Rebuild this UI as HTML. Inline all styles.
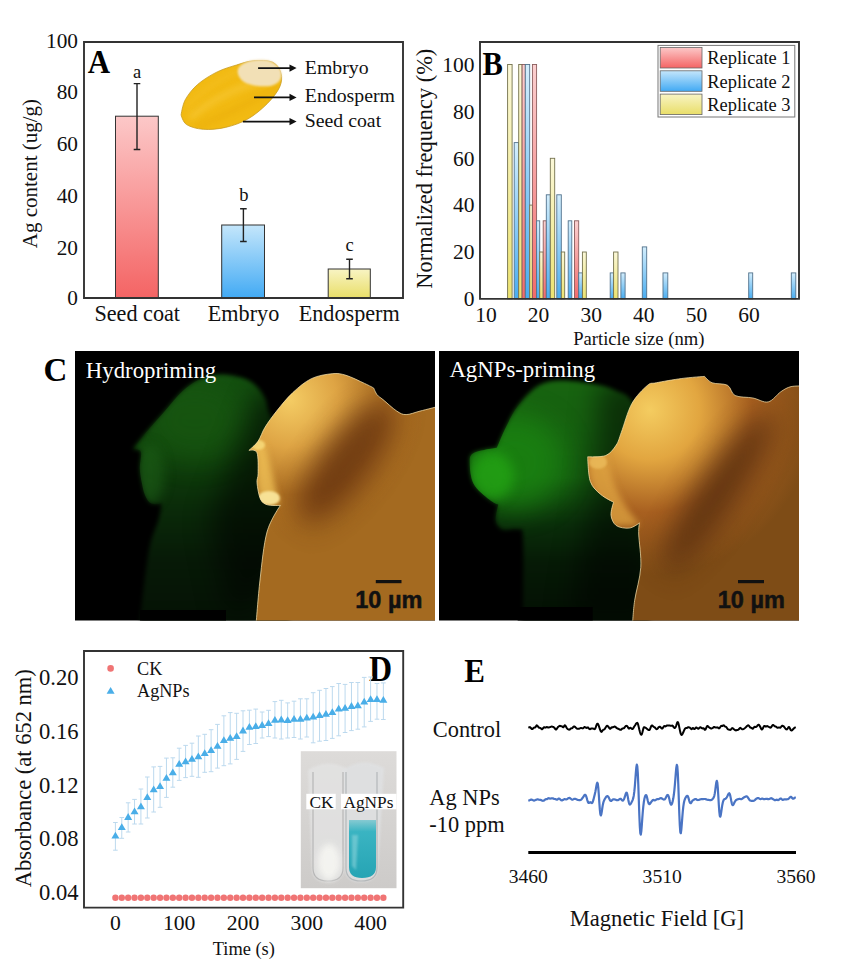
<!DOCTYPE html>
<html><head><meta charset="utf-8"><style>
html,body{margin:0;padding:0;background:#fff;}
body{width:865px;height:969px;overflow:hidden;position:relative;}
svg{position:absolute;left:0;top:0;}
</style></head><body>
<svg width="865" height="969" viewBox="0 0 865 969">
<defs>
<linearGradient id="gr" x1="0" y1="0" x2="0" y2="1"><stop offset="0" stop-color="#fcc8c8"/><stop offset="1" stop-color="#f46464"/></linearGradient>
<linearGradient id="gb" x1="0" y1="0" x2="0" y2="1"><stop offset="0" stop-color="#c4e6fb"/><stop offset="1" stop-color="#42aaf4"/></linearGradient>
<linearGradient id="gy" x1="0" y1="0" x2="0" y2="1"><stop offset="0" stop-color="#f8f4c4"/><stop offset="1" stop-color="#e9de68"/></linearGradient>
<linearGradient id="grb" x1="0" y1="0" x2="0" y2="1"><stop offset="0" stop-color="#fbd0d0"/><stop offset="1" stop-color="#f26a6a"/></linearGradient>
<linearGradient id="gbb" x1="0" y1="0" x2="0" y2="1"><stop offset="0" stop-color="#d4eefc"/><stop offset="1" stop-color="#48acf0"/></linearGradient>
<linearGradient id="gyb" x1="0" y1="0" x2="0" y2="1"><stop offset="0" stop-color="#fbf8d8"/><stop offset="1" stop-color="#ece270"/></linearGradient>
<filter id="blur1" x="-50%" y="-50%" width="200%" height="200%"><feGaussianBlur color-interpolation-filters="sRGB" stdDeviation="1.2"/></filter>
<filter id="blur3" x="-50%" y="-50%" width="200%" height="200%"><feGaussianBlur color-interpolation-filters="sRGB" stdDeviation="3"/></filter>
<filter id="blur6" x="-50%" y="-50%" width="200%" height="200%"><feGaussianBlur color-interpolation-filters="sRGB" stdDeviation="6"/></filter>
<filter id="blur12" x="-50%" y="-50%" width="200%" height="200%"><feGaussianBlur color-interpolation-filters="sRGB" stdDeviation="12"/></filter>
<filter id="blur20" x="-50%" y="-50%" width="200%" height="200%"><feGaussianBlur color-interpolation-filters="sRGB" stdDeviation="20"/></filter>
<radialGradient id="seedg" cx="0.5" cy="0.5" r="0.5"><stop offset="0" stop-color="#f6c22a"/><stop offset="0.8" stop-color="#f0b818"/><stop offset="1" stop-color="#e0a010"/></radialGradient>
<clipPath id="seedclip"><path d="M181.1 114.9 C181.1 114.9 182.5 104.8 185.3 99.7 C188.1 94.6 192.4 89.0 197.7 84.4 C203.0 79.8 210.7 75.1 217.2 71.9 C223.7 68.7 230.6 66.8 236.6 65.0 C242.6 63.1 247.2 61.3 253.2 60.8 C259.2 60.3 268.1 60.1 272.7 62.2 C277.3 64.3 279.9 69.1 281.0 73.3 C282.1 77.5 281.9 82.1 279.6 87.2 C277.3 92.3 272.4 98.5 267.1 103.8 C261.8 109.1 254.6 115.2 247.7 119.1 C240.8 123.0 232.9 125.7 225.5 127.4 C218.1 129.1 209.8 129.8 203.3 129.3 C196.8 128.8 190.3 127.0 186.6 124.6 C182.9 122.2 181.1 114.9 181.1 114.9 Z"/></clipPath><filter id="blur16" x="-100%" y="-100%" width="300%" height="300%"><feGaussianBlur color-interpolation-filters="sRGB" stdDeviation="14"/></filter><filter id="blur2" x="-20%" y="-20%" width="140%" height="140%"><feGaussianBlur color-interpolation-filters="sRGB" stdDeviation="2"/></filter><clipPath id="cl"><rect x="75" y="351" width="360" height="269.5"/></clipPath><clipPath id="cr"><rect x="439" y="351" width="360" height="269.5"/></clipPath><linearGradient id="ggl" gradientUnits="userSpaceOnUse" x1="0" y1="375" x2="0" y2="621"><stop offset="0" stop-color="#145010"/><stop offset="0.3" stop-color="#10440c"/><stop offset="0.55" stop-color="#0a2a09"/><stop offset="0.75" stop-color="#071a07"/><stop offset="1" stop-color="#051205"/></linearGradient><linearGradient id="ggr" gradientUnits="userSpaceOnUse" x1="0" y1="380" x2="0" y2="621"><stop offset="0" stop-color="#186410"/><stop offset="0.4" stop-color="#155c10"/><stop offset="0.6" stop-color="#0a2e0a"/><stop offset="0.76" stop-color="#061a06"/><stop offset="1" stop-color="#041004"/></linearGradient><radialGradient id="gol" gradientUnits="userSpaceOnUse" cx="290" cy="400" r="135"><stop offset="0" stop-color="#f4cc64"/><stop offset="0.35" stop-color="#dea444"/><stop offset="0.7" stop-color="#ac6e22"/><stop offset="1" stop-color="#a46a20"/></radialGradient><radialGradient id="gor" gradientUnits="userSpaceOnUse" cx="650" cy="410" r="165"><stop offset="0" stop-color="#f4cc60"/><stop offset="0.3" stop-color="#e2a640"/><stop offset="0.62" stop-color="#a86020"/><stop offset="1" stop-color="#7e4c16"/></radialGradient><radialGradient id="gdark" cx="0.5" cy="0.5" r="0.5"><stop offset="0" stop-color="#1c5219"/><stop offset="1" stop-color="#1c5219" stop-opacity="0"/></radialGradient><clipPath id="olc"><path d="M248.9 450.4 C248.9 450.4 255.4 445.0 258.1 441.2 C260.8 437.4 261.9 432.3 265.0 427.3 C268.1 422.3 272.0 416.9 276.6 411.1 C281.2 405.3 287.0 398.0 292.8 392.6 C298.6 387.2 304.8 381.9 311.3 378.7 C317.9 375.5 326.3 374.3 332.1 373.7 C337.9 373.1 340.6 373.7 346.0 375.3 C351.4 376.9 359.9 381.3 364.5 383.4 C369.1 385.5 373.7 388.0 373.7 388.0 C373.7 388.0 375.6 393.0 377.2 394.9 C378.8 396.8 379.7 396.9 383.0 399.6 C386.3 402.3 392.9 408.6 396.8 411.1 C400.7 413.6 402.2 414.6 406.1 414.6 C410.0 414.6 414.4 412.5 420.0 411.1 C425.6 409.7 440.0 406.0 440.0 406.0 C440.0 406.0 440.0 625.0 440.0 625.0 C440.0 625.0 256.0 625.0 256.0 625.0 C256.0 625.0 258.2 595.5 260.0 580.0 C261.8 564.5 263.6 544.4 267.0 532.0 C270.4 519.6 280.4 505.4 280.4 505.4 C280.4 505.4 270.7 505.9 267.4 504.8 C264.1 503.7 262.1 502.7 260.4 499.0 C258.7 495.3 257.4 487.1 257.0 482.8 C256.6 478.6 258.1 478.5 258.1 473.5 C258.1 468.5 258.5 456.6 257.0 452.7 C255.5 448.8 248.9 450.4 248.9 450.4 Z"/></clipPath><clipPath id="glc"><path d="M219.9 374.6 C212.3 374.8 205.2 377.0 199.0 379.8 C192.8 382.6 187.9 386.2 182.4 391.2 C176.9 396.2 171.0 404.1 165.8 410.0 C160.6 415.9 155.4 421.8 151.2 426.6 C147.0 431.4 143.9 435.2 140.8 439.0 C137.7 442.8 132.5 449.5 132.5 449.5 C132.5 449.5 139.6 448.4 140.8 451.5 C142.0 454.6 139.6 463.0 139.8 468.2 C140.0 473.4 140.9 478.3 141.8 482.8 C142.7 487.3 143.4 491.7 145.0 495.2 C146.6 498.7 148.4 502.2 151.2 503.6 C154.0 505.0 161.6 503.6 161.6 503.6 C161.6 503.6 160.4 513.1 158.5 520.0 C156.6 526.9 152.4 534.2 150.0 545.0 C147.6 555.8 145.5 574.0 144.0 585.0 C142.5 596.0 141.7 604.3 141.0 611.0 C140.3 617.7 140.0 625.0 140.0 625.0 C140.0 625.0 290.0 625.0 290.0 625.0 C290.0 625.0 285.0 440.0 285.0 440.0 C285.0 440.0 273.0 420.8 269.8 414.0 C266.6 407.2 267.8 404.0 265.7 399.5 C263.6 395.0 260.8 390.5 257.3 387.0 C253.8 383.5 251.0 380.8 244.8 378.7 C238.6 376.6 227.5 374.4 219.9 374.6 Z"/></clipPath><clipPath id="grc"><path d="M561.8 380.4 C552.3 380.6 545.9 381.2 538.5 385.5 C531.1 389.8 523.3 398.9 517.7 406.3 C512.1 413.7 508.2 422.7 504.8 429.6 C501.4 436.5 497.0 447.7 497.0 447.7 C497.0 447.7 478.2 450.3 473.7 452.9 C469.2 455.5 469.8 458.1 469.8 463.3 C469.8 468.5 470.5 477.9 473.7 484.0 C476.9 490.1 485.1 496.1 489.2 499.6 C493.3 503.1 498.3 504.8 498.3 504.8 C498.3 504.8 495.1 516.2 495.7 520.3 C496.3 524.4 498.5 527.9 502.2 529.4 C505.9 530.9 514.2 528.3 517.7 529.4 C521.2 530.5 522.0 523.5 522.9 535.8 C523.8 548.1 523.2 588.3 522.9 603.2 C522.6 618.1 521.0 625.0 521.0 625.0 C521.0 625.0 650.0 625.0 650.0 625.0 C650.0 625.0 650.0 440.0 650.0 440.0 C650.0 440.0 637.4 409.3 631.8 401.1 C626.2 392.9 622.2 393.5 616.2 390.7 C610.2 387.9 604.6 386.0 595.5 384.3 C586.4 382.6 571.3 380.2 561.8 380.4 Z"/></clipPath><clipPath id="orc"><path d="M587.7 456.8 C587.7 456.8 601.0 457.4 605.8 455.5 C610.5 453.6 613.6 449.0 616.2 445.1 C618.8 441.2 618.8 439.1 621.4 432.2 C624.0 425.3 627.5 411.5 631.8 403.7 C636.1 395.9 643.2 389.0 647.3 385.5 C651.4 382.0 650.6 384.0 656.3 382.8 C662.0 381.6 673.7 379.6 681.7 378.5 C689.8 377.4 704.6 376.4 704.6 376.4 C704.6 376.4 708.4 381.3 712.2 382.8 C716.0 384.3 723.7 383.2 727.5 385.3 C731.3 387.4 730.9 393.4 735.1 395.5 C739.3 397.6 747.4 396.9 752.9 398.0 C758.4 399.1 763.5 402.9 768.2 401.9 C772.9 400.8 777.1 394.2 780.9 391.7 C784.7 389.1 787.1 387.6 791.1 386.6 C795.1 385.7 805.0 386.0 805.0 386.0 C805.0 386.0 805.0 625.0 805.0 625.0 C805.0 625.0 632.5 625.0 632.5 625.0 C632.5 625.0 633.2 610.3 634.6 600.7 C636.0 591.1 640.1 578.5 640.8 567.4 C641.5 556.3 638.9 541.4 638.7 534.0 C638.5 526.6 639.5 522.9 639.5 522.9 C639.5 522.9 633.1 527.7 629.2 528.1 C625.3 528.5 619.2 527.7 616.2 525.5 C613.2 523.3 611.4 519.0 611.0 515.1 C610.6 511.2 613.6 502.2 613.6 502.2 C613.6 502.2 604.6 497.9 600.7 494.4 C596.8 490.9 592.5 487.7 590.3 481.4 C588.1 475.1 587.7 456.8 587.7 456.8 Z"/></clipPath>
<linearGradient id="insetg" x1="0" y1="0" x2="0" y2="1"><stop offset="0" stop-color="#dddbd9"/><stop offset="1" stop-color="#cdcbc9"/></linearGradient><linearGradient id="liqg" x1="0" y1="0" x2="0" y2="1"><stop offset="0" stop-color="#86cad2"/><stop offset="0.2" stop-color="#3ab4c2"/><stop offset="1" stop-color="#26a4b4"/></linearGradient>
</defs>
<rect x="115.5" y="116.2" width="42.8" height="181.8" fill="url(#gr)" stroke="#333" stroke-width="1"/>
<rect x="221.7" y="225" width="42.8" height="73" fill="url(#gb)" stroke="#333" stroke-width="1"/>
<rect x="328.2" y="269" width="42.1" height="29" fill="url(#gy)" stroke="#333" stroke-width="1"/>
<path d="M137 83.6V149.5M133.7 83.6H140.3M133.7 149.5H140.3" stroke="#222" stroke-width="1.4" fill="none"/>
<path d="M243.4 208.8V241.5M240.1 208.8H246.70000000000002M240.1 241.5H246.70000000000002" stroke="#222" stroke-width="1.4" fill="none"/>
<path d="M349.5 259.3V278.7M346.2 259.3H352.8M346.2 278.7H352.8" stroke="#222" stroke-width="1.4" fill="none"/>
<path d="M84 42H403V298H84Z" fill="none" stroke="#333" stroke-width="1.9"/>
<text x="78" y="305.4" font-family="Liberation Serif" font-size="21.3" font-weight="normal" fill="#111" text-anchor="end" >0</text>
<text x="78" y="254.6" font-family="Liberation Serif" font-size="21.3" font-weight="normal" fill="#111" text-anchor="end" >20</text>
<text x="78" y="202.8" font-family="Liberation Serif" font-size="21.3" font-weight="normal" fill="#111" text-anchor="end" >40</text>
<text x="78" y="151" font-family="Liberation Serif" font-size="21.3" font-weight="normal" fill="#111" text-anchor="end" >60</text>
<text x="78" y="99.2" font-family="Liberation Serif" font-size="21.3" font-weight="normal" fill="#111" text-anchor="end" >80</text>
<text x="78" y="47.8" font-family="Liberation Serif" font-size="21.3" font-weight="normal" fill="#111" text-anchor="end" >100</text>
<text x="137.2" y="321.3" font-family="Liberation Serif" font-size="22.2" font-weight="normal" fill="#111" text-anchor="middle" >Seed coat</text>
<text x="243.5" y="321.3" font-family="Liberation Serif" font-size="22.2" font-weight="normal" fill="#111" text-anchor="middle" >Embryo</text>
<text x="349.2" y="321.3" font-family="Liberation Serif" font-size="22.2" font-weight="normal" fill="#111" text-anchor="middle" >Endosperm</text>
<text transform="translate(37,173.6) rotate(-90)" x="0" y="0" font-family="Liberation Serif" font-size="21" fill="#111" text-anchor="middle">Ag content (ug/g)</text>
<text x="137" y="77.7" font-family="Liberation Serif" font-size="18.5" font-weight="normal" fill="#111" text-anchor="middle" >a</text>
<text x="243.8" y="200.5" font-family="Liberation Serif" font-size="18.5" font-weight="normal" fill="#111" text-anchor="middle" >b</text>
<text x="349.5" y="250.5" font-family="Liberation Serif" font-size="18.5" font-weight="normal" fill="#111" text-anchor="middle" >c</text>
<text transform="translate(87.8,73.2) scale(1,1.1)" font-family="Liberation Serif" font-size="31" font-weight="bold" fill="#000">A</text>
<path d="M181.1 114.9 C181.1 114.9 182.5 104.8 185.3 99.7 C188.1 94.6 192.4 89.0 197.7 84.4 C203.0 79.8 210.7 75.1 217.2 71.9 C223.7 68.7 230.6 66.8 236.6 65.0 C242.6 63.1 247.2 61.3 253.2 60.8 C259.2 60.3 268.1 60.1 272.7 62.2 C277.3 64.3 279.9 69.1 281.0 73.3 C282.1 77.5 281.9 82.1 279.6 87.2 C277.3 92.3 272.4 98.5 267.1 103.8 C261.8 109.1 254.6 115.2 247.7 119.1 C240.8 123.0 232.9 125.7 225.5 127.4 C218.1 129.1 209.8 129.8 203.3 129.3 C196.8 128.8 190.3 127.0 186.6 124.6 C182.9 122.2 181.1 114.9 181.1 114.9 Z" fill="#f2ba12"/>
<g clip-path="url(#seedclip)"><path d="M190 118 C 210 100, 240 85, 275 78" stroke="#f8cc40" stroke-width="6" fill="none" opacity="0.6" filter="url(#blur3)"/><path d="M195 128 C 220 118, 250 102, 278 88" stroke="#e4a404" stroke-width="4" fill="none" opacity="0.5" filter="url(#blur3)"/><path d="M186 108 C 200 92, 220 78, 245 68" stroke="#f6c430" stroke-width="4" fill="none" opacity="0.5" filter="url(#blur3)"/></g>
<path d="M181.1 114.9 C181.1 114.9 182.5 104.8 185.3 99.7 C188.1 94.6 192.4 89.0 197.7 84.4 C203.0 79.8 210.7 75.1 217.2 71.9 C223.7 68.7 230.6 66.8 236.6 65.0 C242.6 63.1 247.2 61.3 253.2 60.8 C259.2 60.3 268.1 60.1 272.7 62.2 C277.3 64.3 279.9 69.1 281.0 73.3 C282.1 77.5 281.9 82.1 279.6 87.2 C277.3 92.3 272.4 98.5 267.1 103.8 C261.8 109.1 254.6 115.2 247.7 119.1 C240.8 123.0 232.9 125.7 225.5 127.4 C218.1 129.1 209.8 129.8 203.3 129.3 C196.8 128.8 190.3 127.0 186.6 124.6 C182.9 122.2 181.1 114.9 181.1 114.9 Z" fill="none" stroke="#c89a20" stroke-width="0.8"/>
<path d="M240.0 66.0 C242.3 63.8 247.0 61.3 252.0 60.5 C257.0 59.7 265.2 59.4 270.0 61.0 C274.8 62.6 278.8 66.8 280.5 70.0 C282.2 73.2 281.4 77.4 280.0 80.0 C278.6 82.6 275.7 84.5 272.0 85.5 C268.3 86.5 262.7 86.6 258.0 86.0 C253.3 85.4 247.3 84.0 244.0 82.0 C240.7 80.0 238.7 76.7 238.0 74.0 C237.3 71.3 237.7 68.2 240.0 66.0 Z" fill="#f2e0b6" filter="url(#blur1)"/>
<path d="M258.1 68.1H290.5" stroke="#111" stroke-width="1.6"/>
<path d="M289.5 64.5L296.6 68.1L289.5 71.69999999999999Z" fill="#111"/>
<path d="M254 97.4H290.5" stroke="#111" stroke-width="1.6"/>
<path d="M289.5 93.80000000000001L296.6 97.4L289.5 101.0Z" fill="#111"/>
<path d="M242.9 121.6H290.5" stroke="#111" stroke-width="1.6"/>
<path d="M289.5 118.0L296.6 121.6L289.5 125.19999999999999Z" fill="#111"/>
<text x="304.8" y="74.3" font-family="Liberation Serif" font-size="19.8" font-weight="normal" fill="#111" text-anchor="start" >Embryo</text>
<text x="304.8" y="101.5" font-family="Liberation Serif" font-size="19.8" font-weight="normal" fill="#111" text-anchor="start" >Endosperm</text>
<text x="304.8" y="126.8" font-family="Liberation Serif" font-size="19.8" font-weight="normal" fill="#111" text-anchor="start" >Seed coat</text>
<rect x="507.6" y="64.5" width="4.5" height="234.4" fill="url(#gyb)" stroke="#74724e" stroke-width="0.9"/>
<rect x="514.2" y="142.6" width="4.5" height="156.3" fill="url(#gbb)" stroke="#52728c" stroke-width="0.9"/>
<rect x="518.7" y="64.5" width="3.4" height="234.4" fill="url(#gyb)" stroke="#74724e" stroke-width="0.9"/>
<rect x="522.1" y="64.5" width="3.2" height="234.4" fill="url(#grb)" stroke="#8a5c5c" stroke-width="0.9"/>
<rect x="525.3" y="64.5" width="4.4" height="234.4" fill="url(#gbb)" stroke="#52728c" stroke-width="0.9"/>
<rect x="529.7" y="205.1" width="2.7" height="93.8" fill="url(#gyb)" stroke="#74724e" stroke-width="0.9"/>
<rect x="532.4" y="64.5" width="4.2" height="234.4" fill="url(#grb)" stroke="#8a5c5c" stroke-width="0.9"/>
<rect x="536.6" y="220.8" width="3.1" height="78.1" fill="url(#gbb)" stroke="#52728c" stroke-width="0.9"/>
<rect x="539.7" y="252.0" width="3.5" height="46.9" fill="url(#gyb)" stroke="#74724e" stroke-width="0.9"/>
<rect x="543.2" y="220.8" width="3.1" height="78.1" fill="url(#grb)" stroke="#8a5c5c" stroke-width="0.9"/>
<rect x="546.3" y="194.8" width="4.0" height="104.1" fill="url(#gbb)" stroke="#52728c" stroke-width="0.9"/>
<rect x="550.3" y="158.3" width="4.4" height="140.6" fill="url(#gyb)" stroke="#74724e" stroke-width="0.9"/>
<rect x="556.8" y="194.8" width="4.5" height="104.1" fill="url(#gbb)" stroke="#52728c" stroke-width="0.9"/>
<rect x="561.3" y="252.0" width="3.4" height="46.9" fill="url(#gyb)" stroke="#74724e" stroke-width="0.9"/>
<rect x="568.2" y="220.8" width="3.6" height="78.1" fill="url(#gbb)" stroke="#52728c" stroke-width="0.9"/>
<rect x="574.5" y="220.8" width="4.2" height="78.1" fill="url(#grb)" stroke="#8a5c5c" stroke-width="0.9"/>
<rect x="578.7" y="272.9" width="3.7" height="26.0" fill="url(#gbb)" stroke="#52728c" stroke-width="0.9"/>
<rect x="582.4" y="252.0" width="3.9" height="46.9" fill="url(#gyb)" stroke="#74724e" stroke-width="0.9"/>
<rect x="610.2" y="272.9" width="3.6" height="26.0" fill="url(#gbb)" stroke="#52728c" stroke-width="0.9"/>
<rect x="613.6" y="252.0" width="4.4" height="46.9" fill="url(#gyb)" stroke="#74724e" stroke-width="0.9"/>
<rect x="620.9" y="272.9" width="4.2" height="26.0" fill="url(#gbb)" stroke="#52728c" stroke-width="0.9"/>
<rect x="642.3" y="246.9" width="4.4" height="52.0" fill="url(#gbb)" stroke="#52728c" stroke-width="0.9"/>
<rect x="663" y="272.9" width="4.8" height="26.0" fill="url(#gbb)" stroke="#52728c" stroke-width="0.9"/>
<rect x="748.7" y="272.9" width="4.0" height="26.0" fill="url(#gbb)" stroke="#52728c" stroke-width="0.9"/>
<rect x="791.3" y="272.9" width="4.5" height="26.0" fill="url(#gbb)" stroke="#52728c" stroke-width="0.9"/>
<path d="M480 42H799V298.9H480Z" fill="none" stroke="#333" stroke-width="1.9"/>
<text x="474.4" y="306.1" font-family="Liberation Serif" font-size="21.5" font-weight="normal" fill="#111" text-anchor="end" >0</text>
<text x="474.4" y="259.2" font-family="Liberation Serif" font-size="21.5" font-weight="normal" fill="#111" text-anchor="end" >20</text>
<text x="474.4" y="212.3" font-family="Liberation Serif" font-size="21.5" font-weight="normal" fill="#111" text-anchor="end" >40</text>
<text x="474.4" y="165.5" font-family="Liberation Serif" font-size="21.5" font-weight="normal" fill="#111" text-anchor="end" >60</text>
<text x="474.4" y="118.6" font-family="Liberation Serif" font-size="21.5" font-weight="normal" fill="#111" text-anchor="end" >80</text>
<text x="474.4" y="71.7" font-family="Liberation Serif" font-size="21.5" font-weight="normal" fill="#111" text-anchor="end" >100</text>
<text x="486.0" y="321.5" font-family="Liberation Serif" font-size="21.5" font-weight="normal" fill="#111" text-anchor="middle" >10</text>
<text x="538.6" y="321.5" font-family="Liberation Serif" font-size="21.5" font-weight="normal" fill="#111" text-anchor="middle" >20</text>
<text x="591.2" y="321.5" font-family="Liberation Serif" font-size="21.5" font-weight="normal" fill="#111" text-anchor="middle" >30</text>
<text x="643.8" y="321.5" font-family="Liberation Serif" font-size="21.5" font-weight="normal" fill="#111" text-anchor="middle" >40</text>
<text x="696.4" y="321.5" font-family="Liberation Serif" font-size="21.5" font-weight="normal" fill="#111" text-anchor="middle" >50</text>
<text x="749.0" y="321.5" font-family="Liberation Serif" font-size="21.5" font-weight="normal" fill="#111" text-anchor="middle" >60</text>
<text x="638.8" y="344.6" font-family="Liberation Serif" font-size="18.6" font-weight="normal" fill="#111" text-anchor="middle" >Particle size (nm)</text>
<text transform="translate(431.5,168.7) rotate(-90)" x="0" y="0" font-family="Liberation Serif" font-size="22.4" fill="#111" text-anchor="middle">Normalized frequency (%)</text>
<text transform="translate(482.6,75.2) scale(1,1.1)" font-family="Liberation Serif" font-size="30.5" font-weight="bold" fill="#000">B</text>
<rect x="658" y="45.4" width="136.8" height="71.6" fill="#fff" stroke="#777" stroke-width="1"/>
<rect x="660.2" y="47.5" width="41.8" height="20.5" fill="url(#gr)" stroke="#666" stroke-width="0.8"/>
<text x="707.3" y="64.2" font-family="Liberation Serif" font-size="18.4" font-weight="normal" fill="#111" text-anchor="start" >Replicate 1</text>
<rect x="660.2" y="70.8" width="41.8" height="20.5" fill="url(#gb)" stroke="#666" stroke-width="0.8"/>
<text x="707.3" y="87.5" font-family="Liberation Serif" font-size="18.4" font-weight="normal" fill="#111" text-anchor="start" >Replicate 2</text>
<rect x="660.2" y="94.1" width="41.8" height="20.5" fill="url(#gy)" stroke="#666" stroke-width="0.8"/>
<text x="707.3" y="110.8" font-family="Liberation Serif" font-size="18.4" font-weight="normal" fill="#111" text-anchor="start" >Replicate 3</text>
<text transform="translate(43.4,380.6) scale(1,1.04)" font-family="Liberation Serif" font-size="33" font-weight="bold" fill="#000">C</text>
<rect x="75" y="351" width="360" height="269.5" fill="#000"/>
<rect x="439" y="351" width="360" height="269.5" fill="#000"/>
<g clip-path="url(#cl)">
<path d="M219.9 374.6 C212.3 374.8 205.2 377.0 199.0 379.8 C192.8 382.6 187.9 386.2 182.4 391.2 C176.9 396.2 171.0 404.1 165.8 410.0 C160.6 415.9 155.4 421.8 151.2 426.6 C147.0 431.4 143.9 435.2 140.8 439.0 C137.7 442.8 132.5 449.5 132.5 449.5 C132.5 449.5 139.6 448.4 140.8 451.5 C142.0 454.6 139.6 463.0 139.8 468.2 C140.0 473.4 140.9 478.3 141.8 482.8 C142.7 487.3 143.4 491.7 145.0 495.2 C146.6 498.7 148.4 502.2 151.2 503.6 C154.0 505.0 161.6 503.6 161.6 503.6 C161.6 503.6 160.4 513.1 158.5 520.0 C156.6 526.9 152.4 534.2 150.0 545.0 C147.6 555.8 145.5 574.0 144.0 585.0 C142.5 596.0 141.7 604.3 141.0 611.0 C140.3 617.7 140.0 625.0 140.0 625.0 C140.0 625.0 290.0 625.0 290.0 625.0 C290.0 625.0 285.0 440.0 285.0 440.0 C285.0 440.0 273.0 420.8 269.8 414.0 C266.6 407.2 267.8 404.0 265.7 399.5 C263.6 395.0 260.8 390.5 257.3 387.0 C253.8 383.5 251.0 380.8 244.8 378.7 C238.6 376.6 227.5 374.4 219.9 374.6 Z" fill="url(#ggl)" filter="url(#blur2)"/>
<g clip-path="url(#glc)"><ellipse cx="195" cy="420" rx="50" ry="40" fill="#1a5c12" opacity="0.6" filter="url(#blur16)"/><ellipse cx="150" cy="474" rx="14" ry="30" fill="#1e6018" opacity="0.6" filter="url(#blur6)"/></g>
<path d="M258 395 L310 370 L300 560 L230 621 L210 520Z" fill="#000" opacity="0.55" filter="url(#blur16)"/>
<rect x="140" y="610" width="86" height="12" fill="#000"/>
<g clip-path="url(#olc)">
<rect x="240" y="360" width="200" height="265" fill="url(#gol)"/>
<ellipse cx="346" cy="462" rx="26" ry="74" transform="rotate(36.5 346 462)" fill="#6a3610" opacity="0.9" filter="url(#blur16)"/>
<path d="M249 450 L262 440 C 270 455, 272 480, 280 504 L 262 504 C 255 490, 256 470, 257 453 Z" fill="#f2c458" opacity="0.75" filter="url(#blur3)"/>
<ellipse cx="269" cy="498" rx="11" ry="7" fill="#f8e49a" opacity="0.95" filter="url(#blur1)"/><ellipse cx="258" cy="445" rx="7" ry="5" fill="#f6d878" opacity="0.9" filter="url(#blur1)"/>
</g>
<path d="M248.9 450.4 C248.9 450.4 255.4 445.0 258.1 441.2 C260.8 437.4 261.9 432.3 265.0 427.3 C268.1 422.3 272.0 416.9 276.6 411.1 C281.2 405.3 287.0 398.0 292.8 392.6 C298.6 387.2 304.8 381.9 311.3 378.7 C317.9 375.5 326.3 374.3 332.1 373.7 C337.9 373.1 340.6 373.7 346.0 375.3 C351.4 376.9 359.9 381.3 364.5 383.4 C369.1 385.5 373.7 388.0 373.7 388.0 C373.7 388.0 375.6 393.0 377.2 394.9 C378.8 396.8 379.7 396.9 383.0 399.6 C386.3 402.3 392.9 408.6 396.8 411.1 C400.7 413.6 402.2 414.6 406.1 414.6 C410.0 414.6 414.4 412.5 420.0 411.1 C425.6 409.7 440.0 406.0 440.0 406.0 C440.0 406.0 440.0 625.0 440.0 625.0 C440.0 625.0 256.0 625.0 256.0 625.0 C256.0 625.0 258.2 595.5 260.0 580.0 C261.8 564.5 263.6 544.4 267.0 532.0 C270.4 519.6 280.4 505.4 280.4 505.4 C280.4 505.4 270.7 505.9 267.4 504.8 C264.1 503.7 262.1 502.7 260.4 499.0 C258.7 495.3 257.4 487.1 257.0 482.8 C256.6 478.6 258.1 478.5 258.1 473.5 C258.1 468.5 258.5 456.6 257.0 452.7 C255.5 448.8 248.9 450.4 248.9 450.4 Z" fill="none" stroke="#fae6b0" stroke-width="0.9" opacity="0.8"/>
</g>
<g clip-path="url(#cr)">
<path d="M561.8 380.4 C552.3 380.6 545.9 381.2 538.5 385.5 C531.1 389.8 523.3 398.9 517.7 406.3 C512.1 413.7 508.2 422.7 504.8 429.6 C501.4 436.5 497.0 447.7 497.0 447.7 C497.0 447.7 478.2 450.3 473.7 452.9 C469.2 455.5 469.8 458.1 469.8 463.3 C469.8 468.5 470.5 477.9 473.7 484.0 C476.9 490.1 485.1 496.1 489.2 499.6 C493.3 503.1 498.3 504.8 498.3 504.8 C498.3 504.8 495.1 516.2 495.7 520.3 C496.3 524.4 498.5 527.9 502.2 529.4 C505.9 530.9 514.2 528.3 517.7 529.4 C521.2 530.5 522.0 523.5 522.9 535.8 C523.8 548.1 523.2 588.3 522.9 603.2 C522.6 618.1 521.0 625.0 521.0 625.0 C521.0 625.0 650.0 625.0 650.0 625.0 C650.0 625.0 650.0 440.0 650.0 440.0 C650.0 440.0 637.4 409.3 631.8 401.1 C626.2 392.9 622.2 393.5 616.2 390.7 C610.2 387.9 604.6 386.0 595.5 384.3 C586.4 382.6 571.3 380.2 561.8 380.4 Z" fill="url(#ggr)" filter="url(#blur2)"/>
<g clip-path="url(#grc)"><ellipse cx="515" cy="462" rx="50" ry="48" fill="#1c8c12" opacity="0.7" filter="url(#blur16)"/><ellipse cx="492" cy="476" rx="22" ry="24" fill="#24a614" opacity="0.75" filter="url(#blur6)"/></g><path d="M600 380 L660 380 L650 621 L570 621 L590 500Z" fill="#000" opacity="0.5" filter="url(#blur16)"/>
<rect x="517.7" y="607" width="75" height="15" fill="#000"/>
<g clip-path="url(#orc)">
<rect x="580" y="360" width="225" height="265" fill="url(#gor)"/>
<ellipse cx="718" cy="492" rx="20" ry="95" transform="rotate(34 718 492)" fill="#5a3010" opacity="0.9" filter="url(#blur16)"/>
<path d="M588 457 L606 455 C 612 470, 610 490, 640 525 L 612 526 C 600 505, 590 490, 589 470 Z" fill="#e2a844" opacity="0.7" filter="url(#blur3)"/><ellipse cx="598" cy="462" rx="9" ry="7" fill="#eec060" opacity="0.7" filter="url(#blur1)"/>
</g>
<path d="M587.7 456.8 C587.7 456.8 601.0 457.4 605.8 455.5 C610.5 453.6 613.6 449.0 616.2 445.1 C618.8 441.2 618.8 439.1 621.4 432.2 C624.0 425.3 627.5 411.5 631.8 403.7 C636.1 395.9 643.2 389.0 647.3 385.5 C651.4 382.0 650.6 384.0 656.3 382.8 C662.0 381.6 673.7 379.6 681.7 378.5 C689.8 377.4 704.6 376.4 704.6 376.4 C704.6 376.4 708.4 381.3 712.2 382.8 C716.0 384.3 723.7 383.2 727.5 385.3 C731.3 387.4 730.9 393.4 735.1 395.5 C739.3 397.6 747.4 396.9 752.9 398.0 C758.4 399.1 763.5 402.9 768.2 401.9 C772.9 400.8 777.1 394.2 780.9 391.7 C784.7 389.1 787.1 387.6 791.1 386.6 C795.1 385.7 805.0 386.0 805.0 386.0 C805.0 386.0 805.0 625.0 805.0 625.0 C805.0 625.0 632.5 625.0 632.5 625.0 C632.5 625.0 633.2 610.3 634.6 600.7 C636.0 591.1 640.1 578.5 640.8 567.4 C641.5 556.3 638.9 541.4 638.7 534.0 C638.5 526.6 639.5 522.9 639.5 522.9 C639.5 522.9 633.1 527.7 629.2 528.1 C625.3 528.5 619.2 527.7 616.2 525.5 C613.2 523.3 611.4 519.0 611.0 515.1 C610.6 511.2 613.6 502.2 613.6 502.2 C613.6 502.2 604.6 497.9 600.7 494.4 C596.8 490.9 592.5 487.7 590.3 481.4 C588.1 475.1 587.7 456.8 587.7 456.8 Z" fill="none" stroke="#fae6b0" stroke-width="0.9" opacity="0.8"/>
</g>
<text x="85.8" y="377.9" font-family="Liberation Serif" font-size="22.8" font-weight="normal" fill="#fff" text-anchor="start" >Hydropriming</text>
<text x="449.4" y="377.4" font-family="Liberation Serif" font-size="22.8" font-weight="normal" fill="#fff" text-anchor="start" >AgNPs-priming</text>
<rect x="375.8" y="580" width="25.7" height="3.2" fill="#111"/>
<text x="388.8" y="607.8" font-family="Liberation Sans" font-size="23.5" font-weight="bold" fill="#111" text-anchor="middle" stroke="#111" stroke-width="0.5">10 µm</text>
<rect x="738" y="580" width="26.0" height="3.2" fill="#111"/>
<text x="751.3" y="607.8" font-family="Liberation Sans" font-size="23.5" font-weight="bold" fill="#111" text-anchor="middle" stroke="#111" stroke-width="0.5">10 µm</text>
<path d="M84 651H403.2V907.6H84Z" fill="none" stroke="#333" stroke-width="1.9"/>
<text x="78.6" y="684.9" font-family="Liberation Serif" font-size="22.6" font-weight="normal" fill="#111" text-anchor="end" >0.20</text>
<text x="78.6" y="738.7" font-family="Liberation Serif" font-size="22.6" font-weight="normal" fill="#111" text-anchor="end" >0.16</text>
<text x="78.6" y="792.5" font-family="Liberation Serif" font-size="22.6" font-weight="normal" fill="#111" text-anchor="end" >0.12</text>
<text x="78.6" y="846.3" font-family="Liberation Serif" font-size="22.6" font-weight="normal" fill="#111" text-anchor="end" >0.08</text>
<text x="78.6" y="900.1" font-family="Liberation Serif" font-size="22.6" font-weight="normal" fill="#111" text-anchor="end" >0.04</text>
<text x="115.4" y="930.3" font-family="Liberation Serif" font-size="21.7" font-weight="normal" fill="#111" text-anchor="middle" >0</text>
<text x="179.2" y="930.3" font-family="Liberation Serif" font-size="21.7" font-weight="normal" fill="#111" text-anchor="middle" >100</text>
<text x="243.0" y="930.3" font-family="Liberation Serif" font-size="21.7" font-weight="normal" fill="#111" text-anchor="middle" >200</text>
<text x="306.8" y="930.3" font-family="Liberation Serif" font-size="21.7" font-weight="normal" fill="#111" text-anchor="middle" >300</text>
<text x="370.6" y="930.3" font-family="Liberation Serif" font-size="21.7" font-weight="normal" fill="#111" text-anchor="middle" >400</text>
<text x="243.8" y="955.3" font-family="Liberation Serif" font-size="18.4" font-weight="normal" fill="#111" text-anchor="middle" >Time (s)</text>
<text transform="translate(30.5,778.2) rotate(-90)" x="0" y="0" font-family="Liberation Serif" font-size="22.5" fill="#111" text-anchor="middle">Absorbance (at 652 nm)</text>
<text transform="translate(369,681) scale(1,1.1)" font-family="Liberation Serif" font-size="32" font-weight="bold" fill="#000">D</text>
<circle cx="110.6" cy="668.4" r="3.3" fill="#f07474"/>
<path d="M106.6 693.7L110.6 686.9L114.6 693.7Z" fill="#4aaee8"/>
<text x="137" y="674.7" font-family="Liberation Serif" font-size="18.2" font-weight="normal" fill="#111" text-anchor="start" >CK</text>
<text x="137" y="696.9" font-family="Liberation Serif" font-size="18.2" font-weight="normal" fill="#111" text-anchor="start" >AgNPs</text>
<path d="M115.4 822.5V850.2M113.10 822.5H117.70M113.10 850.2H117.70M121.78 817.5V838.3M119.48 817.5H124.08M119.48 838.3H124.08M128.16 802.8V832M125.86 802.8H130.46M125.86 832H130.46M134.54 799.4V824M132.24 799.4H136.84M132.24 824H136.84M140.92 789V824M138.62 789H143.22M138.62 824H143.22M147.3 777V818M145.00 777H149.60M145.00 818H149.60M153.68 766.9V812M151.38 766.9H155.98M151.38 812H155.98M160.06 766.4V807.3M157.76 766.4H162.36M157.76 807.3H162.36M166.44 758.1V797.4M164.14 758.1H168.74M164.14 797.4H168.74M172.82 757.8V787.2M170.52 757.8H175.12M170.52 787.2H175.12M179.2 748.2V780.4M176.90 748.2H181.50M176.90 780.4H181.50M185.58 745.4V777.6M183.28 745.4H187.88M183.28 777.6H187.88M191.96 743.2V776.3M189.66 743.2H194.26M189.66 776.3H194.26M198.34 736V777.3M196.04 736H200.64M196.04 777.3H200.64M204.72 734.3V772.3M202.42 734.3H207.02M202.42 772.3H207.02M211.1 729.7V771.7M208.80 729.7H213.40M208.80 771.7H213.40M217.48 724.4V768.1M215.18 724.4H219.78M215.18 768.1H219.78M223.86 715.8V765.7M221.56 715.8H226.16M221.56 765.7H226.16M230.24 712.6V763.9M227.94 712.6H232.54M227.94 763.9H232.54M236.62 713.3V759.4M234.32 713.3H238.92M234.32 759.4H238.92M243.0 710.8V751.4M240.70 710.8H245.30M240.70 751.4H245.30M249.38 710.2V744.5M247.08 710.2H251.68M247.08 744.5H251.68M255.76 709.1V743.5M253.46 709.1H258.06M253.46 743.5H258.06M262.14 712V738M259.84 712H264.44M259.84 738H264.44M268.52 710.3V736.6M266.22 710.3H270.82M266.22 736.6H270.82M274.9 701.6V738M272.60 701.6H277.20M272.60 738H277.20M281.28 700.3V739M278.98 700.3H283.58M278.98 739H283.58M287.66 702.9V738M285.36 702.9H289.96M285.36 738H289.96M294.04 701.2V737.5M291.74 701.2H296.34M291.74 737.5H296.34M300.42 698.8V739M298.12 698.8H302.72M298.12 739H302.72M306.8 698.8V737M304.50 698.8H309.10M304.50 737H309.10M313.18 692.7V742.8M310.88 692.7H315.48M310.88 742.8H315.48M319.56 690.3V741.2M317.26 690.3H321.86M317.26 741.2H321.86M325.94 688.5V740.5M323.64 688.5H328.24M323.64 740.5H328.24M332.32 686.6V738.4M330.02 686.6H334.62M330.02 738.4H334.62M338.7 683.5V735.8M336.40 683.5H341.00M336.40 735.8H341.00M345.08 684.4V732.5M342.78 684.4H347.38M342.78 732.5H347.38M351.46 682.5V730.6M349.16 682.5H353.76M349.16 730.6H353.76M357.84 682.5V729.2M355.54 682.5H360.14M355.54 729.2H360.14M364.22 677.4V726.9M361.92 677.4H366.52M361.92 726.9H366.52M370.6 677V721.4M368.30 677H372.90M368.30 721.4H372.90M376.98 683.5V719.2M374.68 683.5H379.28M374.68 719.2H379.28M383.36 682.9V719.5M381.06 682.9H385.66M381.06 719.5H385.66" stroke="#bcd9ee" stroke-width="1" fill="none"/>
<g>
<rect x="300.8" y="751.2" width="95.7" height="137" fill="url(#insetg)"/>
<path d="M308 770 Q 326 758 346 768 L 344 868 Q 343 882 328 882 Q 312 882 312 868 Z" fill="#e4e4e4" opacity="0.75" filter="url(#blur1)"/>
<path d="M343 770 Q 362 756 384 768 L 378 868 Q 377 882 361 882 Q 345 882 345 868 Z" fill="#e0e2e4" opacity="0.75" filter="url(#blur1)"/>
<path d="M313 772 L 313 868 Q 313 881 328 881 Q 343 881 343 868 L 343 772" fill="none" stroke="#b6b6b6" stroke-width="1.2"/>
<path d="M346 772 L 346 868 Q 346 881 361 881 Q 377 881 377 868 L 377 772" fill="none" stroke="#b4b8ba" stroke-width="1.2"/>
<path d="M349 820 L376 820 L376 867 Q376 878 362 878 Q349 878 349 867 Z" fill="url(#liqg)"/>
<path d="M352 835 L358 835 L356 870 L352 866Z" fill="#9adae0" opacity="0.5" filter="url(#blur1)"/>
<ellipse cx="329" cy="862" rx="11" ry="18" fill="#f6f6f2" opacity="0.9" filter="url(#blur3)"/>
<rect x="306.3" y="793.8" width="29.4" height="15.5" fill="#fff"/>
<rect x="341" y="793.8" width="55.5" height="15.5" fill="#fff"/>
</g>
<text x="321.4" y="807.7" font-family="Liberation Serif" font-size="17.3" font-weight="normal" fill="#111" text-anchor="middle" >CK</text>
<text x="368.4" y="807.7" font-family="Liberation Serif" font-size="17.3" font-weight="normal" fill="#111" text-anchor="middle" >AgNPs</text>
<g fill="#f07474"><circle cx="115.40" cy="897.7" r="3.2"/><circle cx="121.78" cy="897.7" r="3.2"/><circle cx="128.16" cy="897.7" r="3.2"/><circle cx="134.54" cy="897.7" r="3.2"/><circle cx="140.92" cy="897.7" r="3.2"/><circle cx="147.30" cy="897.7" r="3.2"/><circle cx="153.68" cy="897.7" r="3.2"/><circle cx="160.06" cy="897.7" r="3.2"/><circle cx="166.44" cy="897.7" r="3.2"/><circle cx="172.82" cy="897.7" r="3.2"/><circle cx="179.20" cy="897.7" r="3.2"/><circle cx="185.58" cy="897.7" r="3.2"/><circle cx="191.96" cy="897.7" r="3.2"/><circle cx="198.34" cy="897.7" r="3.2"/><circle cx="204.72" cy="897.7" r="3.2"/><circle cx="211.10" cy="897.7" r="3.2"/><circle cx="217.48" cy="897.7" r="3.2"/><circle cx="223.86" cy="897.7" r="3.2"/><circle cx="230.24" cy="897.7" r="3.2"/><circle cx="236.62" cy="897.7" r="3.2"/><circle cx="243.00" cy="897.7" r="3.2"/><circle cx="249.38" cy="897.7" r="3.2"/><circle cx="255.76" cy="897.7" r="3.2"/><circle cx="262.14" cy="897.7" r="3.2"/><circle cx="268.52" cy="897.7" r="3.2"/><circle cx="274.90" cy="897.7" r="3.2"/><circle cx="281.28" cy="897.7" r="3.2"/><circle cx="287.66" cy="897.7" r="3.2"/><circle cx="294.04" cy="897.7" r="3.2"/><circle cx="300.42" cy="897.7" r="3.2"/><circle cx="306.80" cy="897.7" r="3.2"/><circle cx="313.18" cy="897.7" r="3.2"/><circle cx="319.56" cy="897.7" r="3.2"/><circle cx="325.94" cy="897.7" r="3.2"/><circle cx="332.32" cy="897.7" r="3.2"/><circle cx="338.70" cy="897.7" r="3.2"/><circle cx="345.08" cy="897.7" r="3.2"/><circle cx="351.46" cy="897.7" r="3.2"/><circle cx="357.84" cy="897.7" r="3.2"/><circle cx="364.22" cy="897.7" r="3.2"/><circle cx="370.60" cy="897.7" r="3.2"/><circle cx="376.98" cy="897.7" r="3.2"/><circle cx="383.36" cy="897.7" r="3.2"/></g>
<path d="M111.40 838.6L115.40 831.8L119.40 838.6ZM117.78 830.0L121.78 823.2L125.78 830.0ZM124.16 819.9L128.16 813.1L132.16 819.9ZM130.54 814.2L134.54 807.4L138.54 814.2ZM136.92 809.2L140.92 802.4L144.92 809.2ZM143.30 800.1L147.30 793.3L151.30 800.1ZM149.68 792.2L153.68 785.4L157.68 792.2ZM156.06 789.0L160.06 782.2L164.06 789.0ZM162.44 780.8L166.44 774.0L170.44 780.8ZM168.82 775.3L172.82 768.5L176.82 775.3ZM175.20 766.8L179.20 760.0L183.20 766.8ZM181.58 764.2L185.58 757.4L189.58 764.2ZM187.96 761.8L191.96 755.0L195.96 761.8ZM194.34 759.3L198.34 752.5L202.34 759.3ZM200.72 756.0L204.72 749.2L208.72 756.0ZM207.10 753.1L211.10 746.3L215.10 753.1ZM213.48 748.7L217.48 741.9L221.48 748.7ZM219.86 743.1L223.86 736.3L227.86 743.1ZM226.24 740.8L230.24 734.0L234.24 740.8ZM232.62 739.0L236.62 732.2L240.62 739.0ZM239.00 733.4L243.00 726.6L247.00 733.4ZM245.38 729.7L249.38 722.9L253.38 729.7ZM251.76 729.0L255.76 722.2L259.76 729.0ZM258.14 727.9L262.14 721.1L266.14 727.9ZM264.52 726.1L268.52 719.3L272.52 726.1ZM270.90 722.7L274.90 715.9L278.90 722.7ZM277.28 722.4L281.28 715.6L285.28 722.4ZM283.66 723.1L287.66 716.3L291.66 723.1ZM290.04 721.8L294.04 715.0L298.04 721.8ZM296.42 721.8L300.42 715.0L304.42 721.8ZM302.80 720.5L306.80 713.7L310.80 720.5ZM309.18 719.6L313.18 712.8L317.18 719.6ZM315.56 718.1L319.56 711.3L323.56 718.1ZM321.94 716.8L325.94 710.0L329.94 716.8ZM328.32 715.0L332.32 708.2L336.32 715.0ZM334.70 711.6L338.70 704.8L342.70 711.6ZM341.08 710.7L345.08 703.9L349.08 710.7ZM347.46 708.9L351.46 702.1L355.46 708.9ZM353.84 708.3L357.84 701.5L361.84 708.3ZM360.22 704.6L364.22 697.8L368.22 704.6ZM366.60 702.0L370.60 695.2L374.60 702.0ZM372.98 702.0L376.98 695.2L380.98 702.0ZM379.36 702.8L383.36 696.0L387.36 702.8Z" fill="#4aaee8"/>
<text transform="translate(464.2,681.6) scale(1,1.1)" font-family="Liberation Serif" font-size="31" font-weight="bold" fill="#000">E</text>
<text x="432.8" y="736.7" font-family="Liberation Serif" font-size="22.4" font-weight="normal" fill="#111" text-anchor="start" >Control</text>
<text x="429.3" y="804.9" font-family="Liberation Serif" font-size="22.4" font-weight="normal" fill="#111" text-anchor="start" >Ag NPs</text>
<text x="429.3" y="831.7" font-family="Liberation Serif" font-size="22.4" font-weight="normal" fill="#111" text-anchor="start" >-10 ppm</text>
<path d="M528.3 852.4H796" stroke="#000" stroke-width="3"/>
<text x="528.3" y="883" font-family="Liberation Serif" font-size="19.6" font-weight="normal" fill="#111" text-anchor="middle" >3460</text>
<text x="662.2" y="883" font-family="Liberation Serif" font-size="19.6" font-weight="normal" fill="#111" text-anchor="middle" >3510</text>
<text x="796" y="883" font-family="Liberation Serif" font-size="19.6" font-weight="normal" fill="#111" text-anchor="middle" >3560</text>
<text x="656.9" y="926.1" font-family="Liberation Serif" font-size="22.6" font-weight="normal" fill="#111" text-anchor="middle" >Magnetic Field [G]</text>
<path d="M528.3,727.60 L528.8,727.47 L529.3,727.26 L529.8,727.12 L530.3,727.30 L530.8,727.86 L531.3,728.57 L531.8,729.04 L532.3,729.11 L532.8,728.78 L533.3,728.26 L533.8,727.77 L534.3,727.57 L534.8,727.57 L535.3,727.36 L535.8,726.68 L536.3,725.81 L536.8,725.35 L537.3,725.59 L537.8,726.30 L538.3,727.07 L538.8,727.56 L539.3,727.78 L539.8,727.86 L540.3,728.02 L540.8,728.34 L541.3,728.79 L541.8,729.16 L542.3,729.14 L542.8,728.63 L543.3,727.88 L543.8,727.34 L544.3,727.26 L544.8,727.47 L545.3,727.63 L545.8,727.47 L546.3,727.17 L546.8,727.04 L547.3,727.20 L547.8,727.46 L548.3,727.58 L548.8,727.47 L549.3,727.28 L549.8,727.14 L550.3,727.04 L550.8,726.87 L551.3,726.63 L551.8,726.50 L552.3,726.61 L552.8,726.85 L553.3,727.05 L553.8,727.25 L554.3,727.66 L554.8,728.37 L555.3,729.13 L555.8,729.59 L556.3,729.47 L556.8,728.84 L557.3,728.02 L557.8,727.32 L558.3,726.83 L558.8,726.43 L559.3,726.04 L559.8,725.84 L560.3,725.93 L560.8,726.14 L561.3,726.20 L561.8,726.23 L562.3,726.54 L562.8,727.10 L563.3,727.30 L563.8,726.75 L564.3,725.83 L564.8,725.31 L565.3,725.51 L565.8,726.23 L566.3,727.18 L566.8,728.10 L567.3,728.75 L567.8,729.09 L568.3,729.30 L568.8,729.53 L569.3,729.66 L569.8,729.47 L570.3,729.00 L570.8,728.54 L571.3,728.35 L571.8,728.35 L572.3,728.14 L572.8,727.53 L573.3,726.84 L573.8,726.45 L574.3,726.43 L574.8,726.66 L575.3,727.08 L575.8,727.62 L576.3,728.18 L576.8,728.58 L577.3,728.76 L577.8,728.76 L578.3,728.73 L578.8,728.73 L579.3,728.65 L579.8,728.41 L580.3,728.15 L580.8,728.02 L581.3,728.03 L581.8,728.13 L582.3,728.29 L582.8,728.39 L583.3,728.16 L583.8,727.60 L584.3,727.06 L584.8,726.97 L585.3,727.29 L585.8,727.70 L586.3,727.93 L586.8,727.84 L587.3,727.57 L587.8,727.43 L588.3,727.72 L588.8,728.37 L589.3,728.97 L589.8,729.19 L590.3,729.02 L590.8,728.73 L591.3,728.51 L591.8,728.40 L592.3,728.38 L592.8,728.47 L593.3,728.65 L593.8,728.91 L594.3,729.14 L594.8,729.10 L595.3,728.47 L595.8,727.16 L596.3,725.57 L596.8,724.28 L597.3,723.64 L597.8,723.78 L598.3,724.62 L598.8,725.94 L599.3,727.39 L599.8,728.82 L600.3,730.22 L600.8,731.38 L601.3,731.87 L601.8,731.61 L602.3,730.90 L602.8,730.22 L603.3,729.81 L603.8,729.63 L604.3,729.41 L604.8,728.86 L605.3,728.07 L605.8,727.25 L606.3,726.50 L606.8,725.92 L607.3,725.72 L607.8,726.04 L608.3,726.68 L608.8,727.39 L609.3,728.10 L609.8,728.66 L610.3,728.78 L610.8,728.33 L611.3,727.65 L611.8,727.30 L612.3,727.33 L612.8,727.41 L613.3,727.20 L613.8,726.84 L614.3,726.62 L614.8,726.61 L615.3,726.79 L615.8,727.17 L616.3,727.70 L616.8,728.21 L617.3,728.51 L617.8,728.66 L618.3,728.76 L618.8,728.97 L619.3,729.29 L619.8,729.65 L620.3,729.87 L620.8,729.84 L621.3,729.53 L621.8,729.06 L622.3,728.64 L622.8,728.42 L623.3,728.37 L623.8,728.28 L624.3,727.88 L624.8,727.18 L625.3,726.43 L625.8,725.99 L626.3,725.85 L626.8,725.91 L627.3,726.24 L627.8,727.00 L628.3,727.97 L628.8,728.61 L629.3,728.56 L629.8,728.06 L630.3,727.70 L630.8,727.84 L631.3,728.34 L631.8,728.84 L632.3,729.06 L632.8,728.88 L633.3,728.24 L633.8,727.33 L634.3,726.44 L634.8,725.70 L635.3,724.94 L635.8,724.12 L636.3,723.38 L636.8,722.89 L637.3,722.86 L637.8,723.57 L638.3,725.19 L638.8,727.36 L639.3,729.55 L639.8,731.47 L640.3,733.08 L640.8,734.26 L641.3,734.73 L641.8,734.22 L642.3,732.75 L642.8,730.66 L643.3,728.68 L643.8,727.46 L644.3,727.16 L644.8,727.38 L645.3,727.70 L645.8,727.95 L646.3,728.27 L646.8,728.67 L647.3,729.10 L647.8,729.46 L648.3,729.82 L648.8,730.10 L649.3,730.09 L649.8,729.51 L650.3,728.42 L650.8,727.07 L651.3,725.94 L651.8,725.39 L652.3,725.50 L652.8,725.99 L653.3,726.48 L653.8,726.84 L654.3,727.12 L654.8,727.45 L655.3,727.97 L655.8,728.59 L656.3,729.08 L656.8,729.21 L657.3,728.94 L657.8,728.34 L658.3,727.60 L658.8,727.02 L659.3,726.77 L659.8,726.78 L660.3,727.00 L660.8,727.50 L661.3,728.13 L661.8,728.57 L662.3,728.54 L662.8,728.02 L663.3,727.18 L663.8,726.40 L664.3,726.08 L664.8,726.23 L665.3,726.44 L665.8,726.33 L666.3,725.93 L666.8,725.56 L667.3,725.43 L667.8,725.51 L668.3,725.59 L668.8,725.61 L669.3,725.59 L669.8,725.61 L670.3,725.69 L670.8,725.79 L671.3,725.79 L671.8,725.67 L672.3,725.62 L672.8,725.94 L673.3,726.64 L673.8,727.41 L674.3,727.91 L674.8,727.99 L675.3,727.55 L675.8,726.65 L676.3,725.32 L676.8,723.72 L677.3,722.38 L677.8,722.02 L678.3,722.96 L678.8,724.92 L679.3,727.39 L679.8,729.90 L680.3,732.15 L680.8,733.85 L681.3,734.81 L681.8,734.95 L682.3,734.36 L682.8,733.37 L683.3,732.23 L683.8,731.07 L684.3,729.94 L684.8,728.98 L685.3,728.35 L685.8,728.10 L686.3,728.11 L686.8,728.05 L687.3,727.73 L687.8,727.33 L688.3,727.14 L688.8,727.27 L689.3,727.49 L689.8,727.69 L690.3,728.02 L690.8,728.65 L691.3,729.18 L691.8,729.09 L692.3,728.42 L692.8,727.91 L693.3,728.10 L693.8,728.71 L694.3,729.10 L694.8,728.92 L695.3,728.32 L695.8,727.75 L696.3,727.53 L696.8,727.73 L697.3,728.16 L697.8,728.59 L698.3,728.76 L698.8,728.48 L699.3,727.89 L699.8,727.43 L700.3,727.32 L700.8,727.46 L701.3,727.76 L701.8,728.19 L702.3,728.47 L702.8,728.36 L703.3,728.15 L703.8,728.38 L704.3,729.14 L704.8,729.81 L705.3,729.79 L705.8,728.96 L706.3,727.72 L706.8,726.60 L707.3,726.01 L707.8,726.10 L708.3,726.58 L708.8,727.08 L709.3,727.46 L709.8,727.81 L710.3,728.19 L710.8,728.47 L711.3,728.53 L711.8,728.41 L712.3,728.19 L712.8,727.87 L713.3,727.46 L713.8,727.09 L714.3,726.96 L714.8,727.12 L715.3,727.39 L715.8,727.58 L716.3,727.60 L716.8,727.47 L717.3,727.37 L717.8,727.54 L718.3,727.97 L718.8,728.33 L719.3,728.30 L719.8,727.79 L720.3,727.00 L720.8,726.26 L721.3,725.87 L721.8,725.88 L722.3,725.97 L722.8,725.79 L723.3,725.43 L723.8,725.36 L724.3,725.80 L724.8,726.36 L725.3,726.62 L725.8,726.71 L726.3,727.06 L726.8,727.75 L727.3,728.54 L727.8,729.16 L728.3,729.50 L728.8,729.61 L729.3,729.70 L729.8,729.88 L730.3,729.96 L730.8,729.67 L731.3,729.01 L731.8,728.36 L732.3,728.10 L732.8,728.28 L733.3,728.70 L733.8,729.14 L734.3,729.52 L734.8,729.88 L735.3,730.22 L735.8,730.40 L736.3,730.29 L736.8,730.05 L737.3,729.93 L737.8,729.89 L738.3,729.73 L738.8,729.33 L739.3,728.75 L739.8,728.16 L740.3,727.87 L740.8,728.08 L741.3,728.63 L741.8,729.11 L742.3,729.30 L742.8,729.25 L743.3,729.08 L743.8,728.81 L744.3,728.46 L744.8,728.08 L745.3,727.67 L745.8,727.23 L746.3,726.74 L746.8,726.26 L747.3,725.82 L747.8,725.45 L748.3,725.28 L748.8,725.55 L749.3,726.26 L749.8,727.08 L750.3,727.57 L750.8,727.67 L751.3,727.71 L751.8,728.05 L752.3,728.53 L752.8,728.70 L753.3,728.30 L753.8,727.54 L754.3,726.95 L754.8,726.81 L755.3,726.94 L755.8,726.98 L756.3,726.78 L756.8,726.38 L757.3,725.81 L757.8,725.15 L758.3,724.70 L758.8,724.72 L759.3,725.19 L759.8,726.00 L760.3,727.02 L760.8,728.08 L761.3,728.99 L761.8,729.47 L762.3,729.32 L762.8,728.50 L763.3,727.35 L763.8,726.38 L764.3,725.96 L764.8,726.08 L765.3,726.44 L765.8,726.63 L766.3,726.47 L766.8,726.15 L767.3,726.06 L767.8,726.30 L768.3,726.66 L768.8,726.96 L769.3,727.20 L769.8,727.48 L770.3,727.67 L770.8,727.57 L771.3,727.06 L771.8,726.23 L772.3,725.40 L772.8,724.92 L773.3,724.97 L773.8,725.41 L774.3,725.93 L774.8,726.30 L775.3,726.47 L775.8,726.59 L776.3,726.86 L776.8,727.32 L777.3,727.72 L777.8,727.80 L778.3,727.61 L778.8,727.41 L779.3,727.45 L779.8,727.64 L780.3,727.64 L780.8,727.24 L781.3,726.59 L781.8,726.02 L782.3,725.74 L782.8,725.78 L783.3,726.03 L783.8,726.49 L784.3,727.08 L784.8,727.75 L785.3,728.41 L785.8,729.00 L786.3,729.37 L786.8,729.38 L787.3,729.02 L787.8,728.32 L788.3,727.46 L788.8,726.90 L789.3,727.10 L789.8,728.08 L790.3,729.28 L790.8,730.16 L791.3,730.47 L791.8,730.39 L792.3,730.06 L792.8,729.59 L793.3,729.01 L793.8,728.43 L794.3,727.97 L794.8,727.67 L795.3,727.45 L795.8,727.22" stroke="#000" stroke-width="2" fill="none" stroke-linejoin="round"/>
<path d="M528.3,800.73 L528.8,800.58 L529.3,800.37 L529.8,800.12 L530.3,799.87 L530.8,799.67 L531.3,799.59 L531.8,799.66 L532.3,799.85 L532.8,800.12 L533.3,800.40 L533.8,800.57 L534.3,800.58 L534.8,800.40 L535.3,800.13 L535.8,799.88 L536.3,799.68 L536.8,799.52 L537.3,799.40 L537.8,799.38 L538.3,799.49 L538.8,799.64 L539.3,799.76 L539.8,799.78 L540.3,799.79 L540.8,799.90 L541.3,800.12 L541.8,800.41 L542.3,800.66 L542.8,800.80 L543.3,800.77 L543.8,800.59 L544.3,800.24 L544.8,799.81 L545.3,799.42 L545.8,799.21 L546.3,799.16 L546.8,799.12 L547.3,798.90 L547.8,798.55 L548.3,798.27 L548.8,798.21 L549.3,798.36 L549.8,798.54 L550.3,798.59 L550.8,798.51 L551.3,798.37 L551.8,798.25 L552.3,798.24 L552.8,798.37 L553.3,798.60 L553.8,798.82 L554.3,798.95 L554.8,799.00 L555.3,799.09 L555.8,799.28 L556.3,799.53 L556.8,799.67 L557.3,799.58 L557.8,799.25 L558.3,798.85 L558.8,798.59 L559.3,798.62 L559.8,798.94 L560.3,799.44 L560.8,799.94 L561.3,800.30 L561.8,800.43 L562.3,800.35 L562.8,800.11 L563.3,799.76 L563.8,799.43 L564.3,799.21 L564.8,799.17 L565.3,799.25 L565.8,799.35 L566.3,799.37 L566.8,799.24 L567.3,798.98 L567.8,798.60 L568.3,798.22 L568.8,797.97 L569.3,797.91 L569.8,798.06 L570.3,798.36 L570.8,798.77 L571.3,799.19 L571.8,799.54 L572.3,799.70 L572.8,799.63 L573.3,799.38 L573.8,799.08 L574.3,798.86 L574.8,798.81 L575.3,798.90 L575.8,799.05 L576.3,799.24 L576.8,799.45 L577.3,799.69 L577.8,799.89 L578.3,800.00 L578.8,800.03 L579.3,800.04 L579.8,800.08 L580.3,800.06 L580.8,799.89 L581.3,799.49 L581.8,798.91 L582.3,798.24 L582.8,797.54 L583.3,796.82 L583.8,796.07 L584.3,795.34 L584.8,794.81 L585.3,794.77 L585.8,795.36 L586.3,796.59 L586.8,798.27 L587.3,800.10 L587.8,801.71 L588.3,802.72 L588.8,802.98 L589.3,802.69 L589.8,802.32 L590.3,802.21 L590.8,802.46 L591.3,802.87 L591.8,803.08 L592.3,802.76 L592.8,801.77 L593.3,800.21 L593.8,798.33 L594.3,796.34 L594.8,794.28 L595.3,792.01 L595.8,789.38 L596.3,786.49 L596.8,783.91 L597.3,782.65 L597.8,783.79 L598.3,787.89 L598.8,794.48 L599.3,802.17 L599.8,809.13 L600.3,813.81 L600.8,815.48 L601.3,814.37 L601.8,811.47 L602.3,808.01 L602.8,804.93 L603.3,802.67 L603.8,801.16 L604.3,800.06 L604.8,799.11 L605.3,798.19 L605.8,797.34 L606.3,796.68 L606.8,796.28 L607.3,796.15 L607.8,796.31 L608.3,796.81 L608.8,797.65 L609.3,798.73 L609.8,799.80 L610.3,800.59 L610.8,800.94 L611.3,800.83 L611.8,800.41 L612.3,799.90 L612.8,799.47 L613.3,799.28 L613.8,799.29 L614.3,799.38 L614.8,799.48 L615.3,799.58 L615.8,799.73 L616.3,799.96 L616.8,800.18 L617.3,800.27 L617.8,800.19 L618.3,799.96 L618.8,799.63 L619.3,799.26 L619.8,798.92 L620.3,798.74 L620.8,798.89 L621.3,799.36 L621.8,800.00 L622.3,800.49 L622.8,800.59 L623.3,800.25 L623.8,799.50 L624.3,798.40 L624.8,796.94 L625.3,795.25 L625.8,793.65 L626.3,792.68 L626.8,792.87 L627.3,794.38 L627.8,796.90 L628.3,799.78 L628.8,802.28 L629.3,803.92 L629.8,804.56 L630.3,804.39 L630.8,803.71 L631.3,802.82 L631.8,801.83 L632.3,800.78 L632.8,799.56 L633.3,797.89 L633.8,795.41 L634.3,791.70 L634.8,786.53 L635.3,780.11 L635.8,773.30 L636.3,767.52 L636.8,764.62 L637.3,766.21 L637.8,773.13 L638.3,784.89 L638.8,799.60 L639.3,814.37 L639.8,826.28 L640.3,833.25 L640.8,834.66 L641.3,831.41 L641.8,825.29 L642.3,818.25 L642.8,811.72 L643.3,806.36 L643.8,802.30 L644.3,799.33 L644.8,797.20 L645.3,795.77 L645.8,795.08 L646.3,795.29 L646.8,796.49 L647.3,798.45 L647.8,800.66 L648.3,802.55 L648.8,803.72 L649.3,804.11 L649.8,803.91 L650.3,803.37 L650.8,802.66 L651.3,801.92 L651.8,801.20 L652.3,800.57 L652.8,800.11 L653.3,799.91 L653.8,799.99 L654.3,800.20 L654.8,800.34 L655.3,800.25 L655.8,799.93 L656.3,799.55 L656.8,799.28 L657.3,799.19 L657.8,799.20 L658.3,799.19 L658.8,799.05 L659.3,798.80 L659.8,798.50 L660.3,798.24 L660.8,798.11 L661.3,798.16 L661.8,798.40 L662.3,798.76 L662.8,799.11 L663.3,799.39 L663.8,799.54 L664.3,799.52 L664.8,799.25 L665.3,798.65 L665.8,797.74 L666.3,796.66 L666.8,795.68 L667.3,795.05 L667.8,794.96 L668.3,795.54 L668.8,796.87 L669.3,798.86 L669.8,801.15 L670.3,803.17 L670.8,804.42 L671.3,804.70 L671.8,804.11 L672.3,802.81 L672.8,800.89 L673.3,798.33 L673.8,795.03 L674.3,790.84 L674.8,785.64 L675.3,779.56 L675.8,773.18 L676.3,767.72 L676.8,764.91 L677.3,766.41 L677.8,773.14 L678.3,784.67 L678.8,799.11 L679.3,813.62 L679.8,825.27 L680.3,832.00 L680.8,833.23 L681.3,829.93 L681.8,823.97 L682.3,817.33 L682.8,811.38 L683.3,806.70 L683.8,803.33 L684.3,801.03 L684.8,799.45 L685.3,798.30 L685.8,797.35 L686.3,796.53 L686.8,795.94 L687.3,795.75 L687.8,796.18 L688.3,797.35 L688.8,799.09 L689.3,800.98 L689.8,802.51 L690.3,803.27 L690.8,803.23 L691.3,802.59 L691.8,801.70 L692.3,800.90 L692.8,800.37 L693.3,800.07 L693.8,799.84 L694.3,799.55 L694.8,799.21 L695.3,798.98 L695.8,799.03 L696.3,799.31 L696.8,799.66 L697.3,799.93 L697.8,800.03 L698.3,799.99 L698.8,799.85 L699.3,799.67 L699.8,799.50 L700.3,799.34 L700.8,799.20 L701.3,799.08 L701.8,799.03 L702.3,799.03 L702.8,799.06 L703.3,799.05 L703.8,799.01 L704.3,798.98 L704.8,799.00 L705.3,799.07 L705.8,799.20 L706.3,799.38 L706.8,799.59 L707.3,799.75 L707.8,799.82 L708.3,799.83 L708.8,799.86 L709.3,799.96 L709.8,800.08 L710.3,800.16 L710.8,800.14 L711.3,800.01 L711.8,799.74 L712.3,799.32 L712.8,798.78 L713.3,798.13 L713.8,797.25 L714.3,795.78 L714.8,793.38 L715.3,789.94 L715.8,785.91 L716.3,782.41 L716.8,780.87 L717.3,782.56 L717.8,787.82 L718.3,795.77 L718.8,804.46 L719.3,811.70 L719.8,815.90 L720.3,816.71 L720.8,814.88 L721.3,811.61 L721.8,808.06 L722.3,804.95 L722.8,802.55 L723.3,800.88 L723.8,799.79 L724.3,799.21 L724.8,798.97 L725.3,798.87 L725.8,798.59 L726.3,798.01 L726.8,797.22 L727.3,796.31 L727.8,795.31 L728.3,794.27 L728.8,793.43 L729.3,793.24 L729.8,794.04 L730.3,795.88 L730.8,798.40 L731.3,801.07 L731.8,803.33 L732.3,804.78 L732.8,805.23 L733.3,804.83 L733.8,803.90 L734.3,802.80 L734.8,801.80 L735.3,801.00 L735.8,800.39 L736.3,799.94 L736.8,799.62 L737.3,799.43 L737.8,799.30 L738.3,799.18 L738.8,799.05 L739.3,798.94 L739.8,798.94 L740.3,799.03 L740.8,799.14 L741.3,799.12 L741.8,798.95 L742.3,798.63 L742.8,798.25 L743.3,797.86 L743.8,797.52 L744.3,797.22 L744.8,796.96 L745.3,796.70 L745.8,796.46 L746.3,796.31 L746.8,796.36 L747.3,796.71 L747.8,797.33 L748.3,798.14 L748.8,798.97 L749.3,799.69 L749.8,800.24 L750.3,800.58 L750.8,800.75 L751.3,800.79 L751.8,800.80 L752.3,800.81 L752.8,800.83 L753.3,800.81 L753.8,800.71 L754.3,800.47 L754.8,800.07 L755.3,799.61 L755.8,799.16 L756.3,798.75 L756.8,798.40 L757.3,798.15 L757.8,798.03 L758.3,798.09 L758.8,798.29 L759.3,798.59 L759.8,798.90 L760.3,799.11 L760.8,799.11 L761.3,798.88 L761.8,798.61 L762.3,798.53 L762.8,798.70 L763.3,798.99 L763.8,799.17 L764.3,799.19 L764.8,799.09 L765.3,798.98 L765.8,798.88 L766.3,798.82 L766.8,798.83 L767.3,798.93 L767.8,799.07 L768.3,799.13 L768.8,799.09 L769.3,798.96 L769.8,798.73 L770.3,798.45 L770.8,798.23 L771.3,798.20 L771.8,798.39 L772.3,798.70 L772.8,799.02 L773.3,799.30 L773.8,799.59 L774.3,799.90 L774.8,800.15 L775.3,800.19 L775.8,800.02 L776.3,799.78 L776.8,799.71 L777.3,799.88 L777.8,800.10 L778.3,800.13 L778.8,799.87 L779.3,799.43 L779.8,798.97 L780.3,798.63 L780.8,798.52 L781.3,798.75 L781.8,799.23 L782.3,799.70 L782.8,799.89 L783.3,799.75 L783.8,799.47 L784.3,799.29 L784.8,799.25 L785.3,799.28 L785.8,799.30 L786.3,799.30 L786.8,799.29 L787.3,799.24 L787.8,799.13 L788.3,798.92 L788.8,798.56 L789.3,798.04 L789.8,797.45 L790.3,796.96 L790.8,796.80 L791.3,797.04 L791.8,797.58 L792.3,798.19 L792.8,798.62 L793.3,798.74 L793.8,798.54 L794.3,798.14 L794.8,797.73 L795.3,797.43 L795.8,797.28" stroke="#4a74c4" stroke-width="2.2" fill="none" stroke-linejoin="round"/>
</svg></body></html>
